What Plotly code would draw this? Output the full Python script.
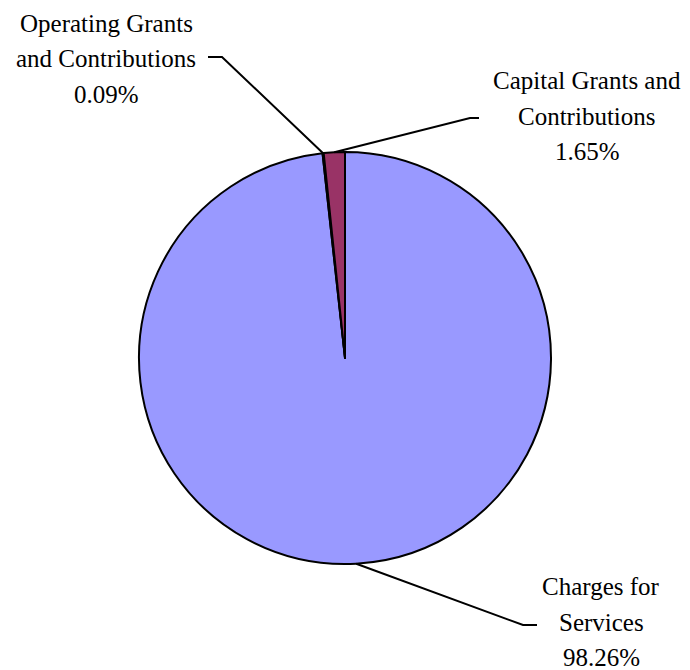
import math
import plotly.graph_objects as go

# Revenue sources (percent of total)
categories = ["Charges for Services", "Operating Grants and Contributions", "Capital Grants and Contributions"]
values = [98.26, 0.09, 1.65]
colors = ["#9999FF", "#FFFFCC", "#993366"]
label_lines = [
    ["Charges for", "Services", "98.26%"],
    ["Operating Grants", "and Contributions", "0.09%"],
    ["Capital Grants and", "Contributions", "1.65%"],
]

W, H = 690, 670
CX, CY, R = 345, 358, 206  # pie centre and radius in pixels
FONT = dict(family="Liberation Serif", size=25, color="#000000")
LINE_GAP = 35.5

def px(x):
    return x / W

def py(y):
    return 1 - y / H

fig = go.Figure(go.Pie(
    labels=categories,
    values=values,
    sort=False,
    direction="clockwise",
    rotation=0,
    marker=dict(colors=colors, line=dict(color="#000000", width=2)),
    textinfo="none",
    hoverinfo="label+percent",
    domain=dict(x=[px(CX - R), px(CX + R)], y=[py(CY + R), py(CY - R)]),
    showlegend=False,
))

# label layout: (elbow point, end of horizontal stub, text centre x, middle-line y)
label_layout = [
    ((523, 625), (537, 625), 601, 622),
    ((222, 57), (208, 57), 106, 59),
    ((470, 118), (479, 118), 587, 116),
]

total = sum(values)
start = 0.0
shapes, annotations = [], []
for val, lines, (elbow, stub, tx, ty) in zip(values, label_lines, label_layout):
    mid = (start + val / 2) / total * 2 * math.pi
    start += val
    ex = CX + R * math.sin(mid)
    ey = CY - R * math.cos(mid)
    path = f"M {px(ex)},{py(ey)} L {px(elbow[0])},{py(elbow[1])} L {px(stub[0])},{py(stub[1])}"
    shapes.append(dict(type="path", xref="paper", yref="paper", path=path,
                       line=dict(color="#000000", width=2)))
    for i, txt in enumerate(lines):
        annotations.append(dict(
            text=txt, xref="paper", yref="paper", x=px(tx), y=py(ty + (i - 1) * LINE_GAP),
            xanchor="center", yanchor="middle", showarrow=False, font=FONT,
        ))

fig.update_layout(
    width=W, height=H,
    margin=dict(l=0, r=0, t=0, b=0),
    paper_bgcolor="#FFFFFF",
    plot_bgcolor="#FFFFFF",
    shapes=shapes,
    annotations=annotations,
)

fig.write_html("out.html")
